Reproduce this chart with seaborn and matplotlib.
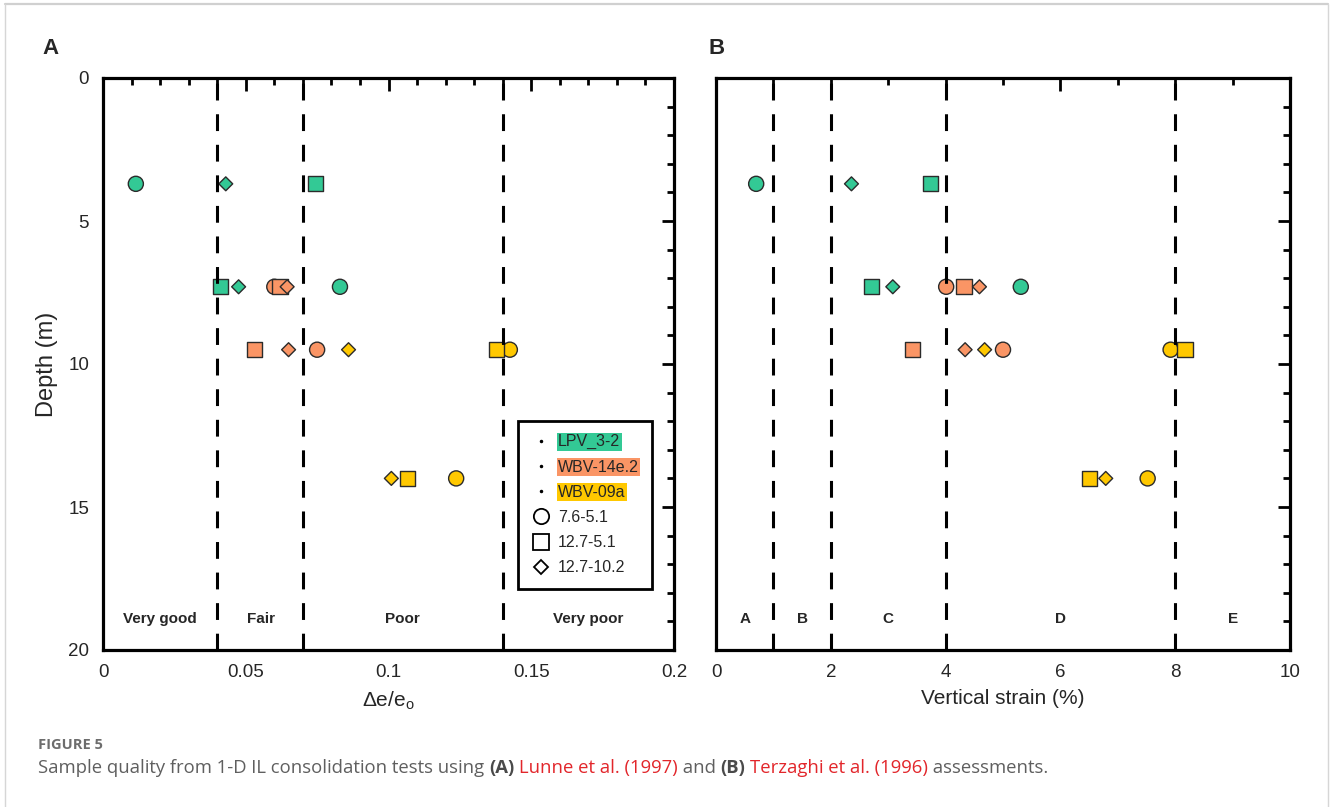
import matplotlib
matplotlib.use("Agg")
import matplotlib.pyplot as plt
from matplotlib.lines import Line2D
from matplotlib.ticker import MultipleLocator
import numpy as np
import pandas as pd
import seaborn as sns

# ---- data -------------------------------------------------------------
samples = ["LPV_3-2"] * 6 + ["WBV-14e.2"] * 6 + ["WBV-09a"] * 6
stress = ["7.6-5.1", "12.7-5.1", "12.7-10.2"] * 6
depth_m = [3.7, 3.7, 3.7, 7.3, 7.3, 7.3,
           7.3, 7.3, 7.3, 9.5, 9.5, 9.5,
           9.5, 9.5, 9.5, 14.0, 14.0, 14.0]
de_e0 = [0.0115, 0.0745, 0.043, 0.083, 0.041, 0.0475,
         0.0600, 0.0620, 0.0645, 0.075, 0.053, 0.065,
         0.1425, 0.1378, 0.086, 0.1237, 0.1065, 0.101]
strain_pct = [0.70, 3.73, 2.36, 5.31, 2.71, 3.08,
              4.01, 4.32, 4.59, 5.00, 3.42, 4.34,
              7.92, 8.17, 4.68, 7.52, 6.50, 6.79]

sample_names = ["LPV_3-2", "WBV-14e.2", "WBV-09a"]
sample_colors = ["#33C995", "#FA9565", "#FFC800"]
stress_names = ["7.6-5.1", "12.7-5.1", "12.7-10.2"]
stress_markers = ["o", "s", "D"]
stress_sizes = [118, 118, 50]

# quality class boundaries and labels
lunne_bounds = [0.04, 0.07, 0.14]
lunne_labels = ["Very good", "Fair", "Poor", "Very poor"]
lunne_label_x = [0.02, 0.0555, 0.105, 0.17]
terz_bounds = [1, 2, 4, 8]
terz_labels = ["A", "B", "C", "D", "E"]
terz_label_x = [0.5, 1.5, 3.0, 6.0, 9.0]

df = pd.DataFrame({"sample": samples, "stress": stress, "depth": depth_m,
                   "de_e0": de_e0, "strain": strain_pct})

# ---- style ------------------------------------------------------------
sns.set_style("white")
plt.rcParams["font.family"] = ["Liberation Sans", "DejaVu Sans"]
plt.rcParams["mathtext.fontset"] = "custom"
plt.rcParams["mathtext.rm"] = "Liberation Sans"

fig = plt.figure(figsize=(13.30, 8.07), dpi=100)
axA = fig.add_axes([103 / 1330, 1 - 650 / 807, 571 / 1330, 572 / 807])
axB = fig.add_axes([716 / 1330, 1 - 650 / 807, 574 / 1330, 572 / 807])

palette = dict(zip(sample_names, sample_colors))
markers = dict(zip(stress_names, stress_markers))
sizes = dict(zip(stress_names, stress_sizes))


def draw_panel(ax, xcol, bounds, labels, label_x, xlim, xmajor, xminor):
    sns.scatterplot(data=df, x=xcol, y="depth", hue="sample", style="stress",
                    size="stress", hue_order=sample_names,
                    style_order=stress_names, size_order=stress_names,
                    palette=palette, markers=markers, sizes=sizes,
                    edgecolor="#2b2b2b", linewidth=1.0, legend=False,
                    ax=ax, zorder=3)
    for b in bounds:
        ax.axvline(b, color="black", lw=2.2, ls=(0, (5.5, 4.5)), zorder=4)
    for t, x in zip(labels, label_x):
        ax.text(x, 18.9, t, ha="center", va="center", fontsize=11,
                fontweight="bold", zorder=5)
    ax.set_xlim(*xlim)
    ax.set_ylim(20, 0)
    ax.xaxis.set_major_locator(MultipleLocator(xmajor))
    ax.xaxis.set_minor_locator(MultipleLocator(xminor))
    ax.yaxis.set_major_locator(MultipleLocator(5))
    ax.yaxis.set_minor_locator(MultipleLocator(1))
    ax.tick_params(which="both", direction="in", top=True, right=True,
                   width=2, labelsize=13.5, color="black")
    ax.tick_params(which="major", length=9, pad=10)
    ax.tick_params(which="minor", length=5)
    for sp in ax.spines.values():
        sp.set_linewidth(2.3)
        sp.set_color("black")


draw_panel(axA, "de_e0", lunne_bounds, lunne_labels, lunne_label_x,
           (0, 0.2), 0.05, 0.01)
draw_panel(axB, "strain", terz_bounds, terz_labels, terz_label_x,
           (0, 10), 2, 1)

axA.set_xticks([0, 0.05, 0.1, 0.15, 0.2])
axA.set_xticklabels(["0", "0.05", "0.1", "0.15", "0.2"])
axA.set_xlabel(r"$\Delta$e/e$_\mathregular{o}$", fontsize=15, labelpad=6)
axA.set_ylabel("Depth (m)", fontsize=17, labelpad=7)
axB.set_xlabel("Vertical strain (%)", fontsize=15, labelpad=6)
axB.set_ylabel("")
axB.tick_params(labelleft=False)

fig.text(42 / 1330, 1 - 48 / 807, "A", fontsize=16, fontweight="bold",
         va="center", ha="left")
fig.text(709 / 1330, 1 - 48 / 807, "B", fontsize=16, fontweight="bold",
         va="center", ha="left")

# ---- legend -----------------------------------------------------------
handles = [Line2D([], [], ls="none", marker=".", color="black", markersize=3)
           for _ in sample_names]
handles += [Line2D([], [], ls="none", marker=m, markerfacecolor="white",
                   markeredgecolor="black", markeredgewidth=1.3,
                   markersize=(11 if m != "D" else 7.5))
            for m in stress_markers]
leg = axA.legend(handles, sample_names + stress_names, loc="upper left",
                 bbox_to_anchor=(0.727, 0.401), fontsize=11.5, frameon=True,
                 fancybox=False, edgecolor="black", framealpha=1,
                 handlelength=1.2, handletextpad=0.45, labelspacing=0.64,
                 borderpad=0.85, borderaxespad=0)
leg.get_frame().set_linewidth(2.0)
leg.set_zorder(6)
for txt, col in zip(leg.get_texts()[:3], sample_colors):
    txt.set_bbox(dict(facecolor=col, edgecolor="none", pad=1.0))

# ---- caption ----------------------------------------------------------
cap_font = ["Open Sans", "DejaVu Sans"]
fig.text(38 / 1330, 1 - 745 / 807, "FIGURE 5", fontsize=10.5, fontweight="bold",
         color="#6d6d6d", family=cap_font, va="center", ha="left")
pieces = [("Sample quality from 1-D IL consolidation tests using ", "#5f5f5f", "normal"),
          ("(A)", "#4a4a4a", "bold"),
          (" ", "#5f5f5f", "normal"),
          ("Lunne et al. (1997)", "#e2262b", "normal"),
          (" and ", "#5f5f5f", "normal"),
          ("(B)", "#4a4a4a", "bold"),
          (" ", "#5f5f5f", "normal"),
          ("Terzaghi et al. (1996)", "#e2262b", "normal"),
          (" assessments.", "#5f5f5f", "normal")]
renderer = fig.canvas.get_renderer()
x_px = 38
for s, c, w in pieces:
    t = fig.text(x_px / 1330, 1 - 768 / 807, s, fontsize=13.3, color=c,
                 fontweight=w, family=cap_font, va="center", ha="left")
    bb = t.get_window_extent(renderer=renderer)
    x_px += bb.width

# figure frame
fig.add_artist(plt.Line2D([5 / 1330, 1328 / 1330], [1 - 4 / 807, 1 - 4 / 807],
                          transform=fig.transFigure, color="#d0d0d0", lw=1.6))
fig.add_artist(plt.Line2D([5 / 1330, 5 / 1330], [0, 1 - 4 / 807],
                          transform=fig.transFigure, color="#d6d6d6", lw=1.0))
fig.add_artist(plt.Line2D([1328 / 1330, 1328 / 1330], [0, 1 - 4 / 807],
                          transform=fig.transFigure, color="#d6d6d6", lw=1.0))

fig.savefig("out.png", dpi=100)
